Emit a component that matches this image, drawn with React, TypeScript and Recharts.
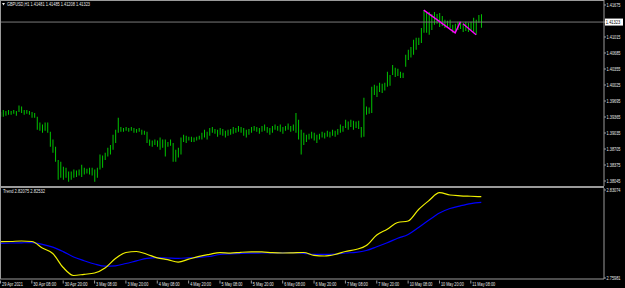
import React from 'react';
import { ComposedChart, Bar, Line, XAxis, YAxis, ReferenceLine } from 'recharts';

// ---------- DATA ----------
const barHigh = [
  1.3947, 1.3951, 1.3949, 1.3951, 1.3949, 1.3951, 1.3949, 1.3960, 1.3958, 1.3951,
  1.3951, 1.3949, 1.3947, 1.3945, 1.3937, 1.3925, 1.3921, 1.3925, 1.3925, 1.3906,
  1.3890, 1.3875, 1.3848, 1.3844, 1.3834, 1.3832, 1.3824, 1.3824, 1.3828, 1.3826,
  1.3828, 1.3838, 1.3832, 1.3830, 1.3832, 1.3832, 1.3828, 1.3832, 1.3859, 1.3857,
  1.3863, 1.3873, 1.3879, 1.3900, 1.3910, 1.3935, 1.3916, 1.3914, 1.3916, 1.3914,
  1.3916, 1.3914, 1.3912, 1.3914, 1.3910, 1.3908, 1.3906, 1.3890, 1.3888, 1.3890,
  1.3888, 1.3894, 1.3890, 1.3890, 1.3885, 1.3890, 1.3883, 1.3869, 1.3873, 1.3894,
  1.3900, 1.3898, 1.3896, 1.3896, 1.3894, 1.3896, 1.3898, 1.3904, 1.3910, 1.3906,
  1.3914, 1.3916, 1.3912, 1.3910, 1.3914, 1.3912, 1.3908, 1.3910, 1.3912, 1.3916,
  1.3914, 1.3918, 1.3916, 1.3914, 1.3910, 1.3912, 1.3916, 1.3918, 1.3916, 1.3914,
  1.3918, 1.3921, 1.3916, 1.3914, 1.3918, 1.3921, 1.3918, 1.3921, 1.3916, 1.3918,
  1.3923, 1.3918, 1.3921, 1.3945, 1.3931, 1.3910, 1.3904, 1.3900, 1.3902, 1.3906,
  1.3904, 1.3900, 1.3902, 1.3906, 1.3904, 1.3908, 1.3906, 1.3910, 1.3908, 1.3912,
  1.3921, 1.3918, 1.3931, 1.3927, 1.3931, 1.3929, 1.3927, 1.3929, 1.3916, 1.3976,
  1.3958, 1.3956, 1.3999, 1.4003, 1.4001, 1.4007, 1.4005, 1.4007, 1.4030, 1.4023,
  1.4044, 1.4038, 1.4036, 1.4030, 1.4028, 1.4065, 1.4075, 1.4081, 1.4096, 1.4100,
  1.4100, 1.4120, 1.4157, 1.4153, 1.4153, 1.4149, 1.4153, 1.4149, 1.4151, 1.4145,
  1.4137, 1.4135, 1.4137, 1.4127, 1.4129, 1.4133, 1.4133, 1.4129, 1.4133, 1.4131,
  1.4133, 1.4141, 1.4137, 1.4147, 1.41485,
];

const barLow = [
  1.3937, 1.3937, 1.3939, 1.3941, 1.3941, 1.3943, 1.3939, 1.3947, 1.3945, 1.3941,
  1.3943, 1.3941, 1.3935, 1.3935, 1.3910, 1.3908, 1.3904, 1.3908, 1.3904, 1.3875,
  1.3863, 1.3844, 1.3807, 1.3811, 1.3807, 1.3811, 1.3803, 1.3807, 1.3811, 1.3813,
  1.3816, 1.3813, 1.3818, 1.3820, 1.3818, 1.3816, 1.3803, 1.3811, 1.3828, 1.3832,
  1.3848, 1.3855, 1.3859, 1.3869, 1.3883, 1.3904, 1.3906, 1.3906, 1.3908, 1.3906,
  1.3908, 1.3904, 1.3904, 1.3906, 1.3900, 1.3900, 1.3883, 1.3877, 1.3875, 1.3879,
  1.3875, 1.3869, 1.3873, 1.3855, 1.3875, 1.3877, 1.3844, 1.3844, 1.3853, 1.3859,
  1.3885, 1.3883, 1.3888, 1.3885, 1.3885, 1.3888, 1.3890, 1.3890, 1.3894, 1.3890,
  1.3898, 1.3904, 1.3902, 1.3896, 1.3900, 1.3898, 1.3894, 1.3898, 1.3900, 1.3902,
  1.3904, 1.3906, 1.3904, 1.3898, 1.3894, 1.3900, 1.3904, 1.3908, 1.3906, 1.3902,
  1.3906, 1.3908, 1.3904, 1.3900, 1.3904, 1.3910, 1.3908, 1.3906, 1.3902, 1.3908,
  1.3910, 1.3906, 1.3908, 1.3904, 1.3890, 1.3859, 1.3879, 1.3885, 1.3890, 1.3892,
  1.3888, 1.3883, 1.3890, 1.3894, 1.3892, 1.3896, 1.3894, 1.3898, 1.3896, 1.3900,
  1.3904, 1.3906, 1.3914, 1.3910, 1.3916, 1.3910, 1.3914, 1.3912, 1.3894, 1.3896,
  1.3941, 1.3943, 1.3945, 1.3982, 1.3978, 1.3988, 1.3986, 1.3991, 1.3999, 1.4001,
  1.4023, 1.4019, 1.4021, 1.4017, 1.4017, 1.4040, 1.4054, 1.4059, 1.4065, 1.4075,
  1.4085, 1.4089, 1.4110, 1.4110, 1.4106, 1.4116, 1.4127, 1.4129, 1.4122, 1.4124,
  1.4120, 1.4122, 1.4120, 1.4110, 1.4110, 1.4116, 1.4118, 1.4112, 1.4114, 1.4112,
  1.4116, 1.4110, 1.4106, 1.4131, 1.41208,
];

const zigzagA = [
  { i: 162, v: 1.4157 },
  { i: 174, v: 1.4110 },
  { i: 176, v: 1.4133 },
];
const zigzagB = [
  { i: 177, v: 1.4129 },
  { i: 182, v: 1.4106 },
];

// Trend indicator, sampled every 4 bars
const trendStep = 4;
const trendFast = [
  2.78907, 2.78923, 2.78963, 2.78923, 2.78399, 2.77956, 2.76827, 2.76183, 2.76279, 2.76384,
  2.76787, 2.77553, 2.78036, 2.78117, 2.77899, 2.77609, 2.77464, 2.77263, 2.77497, 2.7773,
  2.77891, 2.78028, 2.7798, 2.78053, 2.78093, 2.78085, 2.7802, 2.77996, 2.78012, 2.78036,
  2.77811, 2.77754, 2.77875, 2.78117, 2.78279, 2.786, 2.79447, 2.79915, 2.80455, 2.80575,
  2.81502, 2.82228, 2.82856, 2.82671, 2.82607, 2.8257, 2.82532,
];
const trendSlow = [
  2.78778, 2.78802, 2.78818, 2.7883, 2.78689, 2.78472, 2.78109, 2.77674, 2.77376, 2.7711,
  2.76932, 2.76965, 2.7715, 2.77359, 2.77561, 2.77617, 2.77593, 2.77569, 2.77609, 2.7765,
  2.77714, 2.77875, 2.77932, 2.77972, 2.77988, 2.77996, 2.78004, 2.78012, 2.7802, 2.77972,
  2.77891, 2.77891, 2.77908, 2.77996, 2.78053, 2.78198, 2.78496, 2.78818, 2.79181, 2.79487,
  2.80052, 2.80656, 2.8122, 2.81583, 2.81801, 2.8198, 2.82075,
];

const lastClose = 1.41323;
const priceTicks = [
  1.41675, 1.41015, 1.40685, 1.40355, 1.40025, 1.39695, 1.39365,
  1.39035, 1.38705, 1.38375, 1.38045, lastClose,
];
const trendTicks = [2.83074, 2.75981];

const timeTickIdx = [0, 12, 24, 36, 48, 60, 72, 84, 96, 108, 120, 132, 144, 156, 168, 180];
const timeLabels = [
  '29 Apr 2021', '30 Apr 08:00', '30 Apr 20:00', '3 May 08:00', '3 May 20:00',
  '4 May 08:00', '4 May 20:00', '5 May 08:00', '5 May 20:00', '6 May 08:00',
  '6 May 20:00', '7 May 08:00', '7 May 20:00', '10 May 08:00', '10 May 20:00', '11 May 08:00',
];

const headerMain = 'GBPUSD,H1  1.41481 1.41485 1.41208 1.41323';
const headerTrend = 'Trend 2.82075 2.82532';

// ---------- BUILD ROWS ----------
const rows = barHigh.map((h, i) => {
  const a = zigzagA.find((p) => p.i === i);
  const b = zigzagB.find((p) => p.i === i);
  return {
    i,
    range: [barLow[i], h],
    zzA: a ? a.v : null,
    zzB: b ? b.v : null,
    fast: i % trendStep === 0 ? trendFast[i / trendStep] : null,
    slow: i % trendStep === 0 ? trendSlow[i / trendStep] : null,
  };
});

const FONT = '"Liberation Sans", Arial, sans-serif';
const AXIS = '#9a9a9a';
const TXT = '#e8e8e8';
const LABEL_X = 606.5;
const xDomain: [number, number] = [-0.19, 230.96];

const PriceTick = (props: any) => {
  const { y, payload } = props;
  const v = payload.value as number;
  const txt = v.toFixed(5);
  if (v === lastClose) {
    return (
      <g>
        <rect x={605} y={y - 3.5} width={18} height={7} fill="#ffffff" />
        <text x={605.8} y={y} dy="0.36em" fontSize={5.5} fontFamily={FONT} fill="#000"
          textLength={14.5} lengthAdjust="spacingAndGlyphs">{txt}</text>
      </g>
    );
  }
  return (
    <text x={LABEL_X} y={y} dy="0.36em" fontSize={5.5} fontFamily={FONT} fill={TXT}
      textLength={14} lengthAdjust="spacingAndGlyphs">{txt}</text>
  );
};

const TrendTick = (props: any) => {
  const { y, payload } = props;
  const txt = (payload.value as number).toFixed(5);
  return (
    <text x={LABEL_X} y={y} dy="0.36em" fontSize={5.5} fontFamily={FONT} fill={TXT}
      textLength={14} lengthAdjust="spacingAndGlyphs">{txt}</text>
  );
};

const TimeTick = (props: any) => {
  const { x, payload } = props;
  const k = timeTickIdx.indexOf(payload.value);
  const label = k >= 0 ? timeLabels[k] : '';
  return (
    <g>
      <line x1={x} x2={x} y1={92.5} y2={95.5} stroke={AXIS} strokeWidth={1} />
      <text x={x + 1.5} y={96} dy="0.36em" fontSize={5.5} fontFamily={FONT} fill={TXT}
        textLength={label.length * 1.9} lengthAdjust="spacingAndGlyphs">{label}</text>
    </g>
  );
};

export default function App() {
  return (
    <div style={{ position: 'absolute', left: 0, top: 0, width: 625, height: 288, background: '#000', overflow: 'hidden' }}>
      <div style={{ position: 'absolute', left: 0, top: 0 }}>
        <ComposedChart width={625} height={186} data={rows} margin={{ top: 0, right: 0, left: 0, bottom: 0 }}>
          <XAxis type="number" dataKey="i" domain={xDomain} hide allowDataOverflow />
          <YAxis
            orientation="right"
            width={21}
            domain={[1.37942, 1.41778]}
            allowDataOverflow
            ticks={priceTicks}
            interval={0}
            axisLine={{ stroke: AXIS }}
            tickLine={{ stroke: AXIS }}
            tickSize={2}
            tickMargin={1}
            tick={(p: any) => <PriceTick {...p} />}
          />
          <ReferenceLine y={lastClose} stroke="#7a7a7a" strokeWidth={1} />
          <Bar dataKey="range" barSize={1} fill="#00c400" isAnimationActive={false} />
          <Line dataKey="zzA" stroke="#ff00ff" strokeWidth={1.4} dot={false} connectNulls isAnimationActive={false} />
          <Line dataKey="zzB" stroke="#ff00ff" strokeWidth={1.4} dot={false} connectNulls isAnimationActive={false} />
        </ComposedChart>
      </div>
      <div style={{ position: 'absolute', left: 0, top: 188 }}>
        <ComposedChart width={625} height={100} data={rows} margin={{ top: 0, right: 0, left: 0, bottom: 0 }}>
          <XAxis
            type="number"
            dataKey="i"
            domain={xDomain}
            allowDataOverflow
            ticks={timeTickIdx}
            interval={0}
            height={9}
            axisLine={{ stroke: AXIS }}
            tickLine={false}
            tick={(p: any) => <TimeTick {...p} />}
          />
          <YAxis
            orientation="right"
            width={21}
            domain={[2.75901, 2.83235]}
            allowDataOverflow
            ticks={trendTicks}
            interval={0}
            axisLine={{ stroke: AXIS }}
            tickLine={{ stroke: AXIS }}
            tickSize={2}
            tickMargin={1}
            tick={(p: any) => <TrendTick {...p} />}
          />
          <Line dataKey="slow" type="monotone" stroke="#0000ff" strokeWidth={1.2} dot={false} connectNulls isAnimationActive={false} />
          <Line dataKey="fast" type="monotone" stroke="#f0f000" strokeWidth={1.2} dot={false} connectNulls isAnimationActive={false} />
        </ComposedChart>
      </div>
      <svg width={625} height={288} style={{ position: 'absolute', left: 0, top: 0, pointerEvents: 'none' }}>
        <line x1={0.5} y1={0} x2={0.5} y2={279} stroke={AXIS} strokeWidth={1} />
        <line x1={0} y1={0.5} x2={604} y2={0.5} stroke={AXIS} strokeWidth={1} />
        <rect x={0} y={186} width={604} height={2} fill={AXIS} />
        <polygon points="2,3 5,3 3.5,5.5" fill={TXT} />
        <text x={7} y={4.5} dy="0.36em" fontSize={5.5} fontFamily={FONT} fill={TXT}
          textLength={83} lengthAdjust="spacingAndGlyphs">{headerMain}</text>
        <text x={3} y={191} dy="0.36em" fontSize={5.5} fontFamily={FONT} fill={TXT}
          textLength={42} lengthAdjust="spacingAndGlyphs">{headerTrend}</text>
      </svg>
    </div>
  );
}
